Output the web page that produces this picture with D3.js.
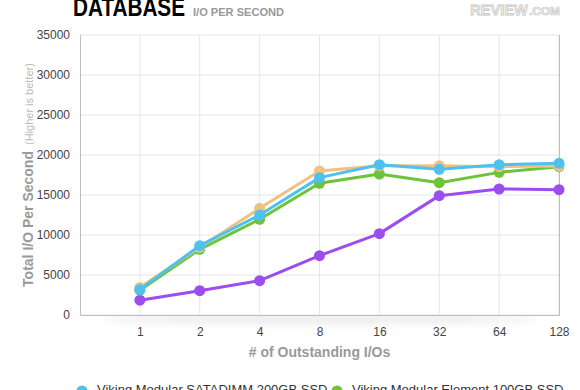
<!DOCTYPE html>
<html><head><meta charset="utf-8">
<script src="https://cdn.jsdelivr.net/npm/d3@7"></script>
<style>body{margin:0;background:#fff;}svg{display:block;font-family:"Liberation Sans",Arial,sans-serif;}</style>
</head><body>
<svg id="c" width="580" height="390"></svg>
<script>
const categories = ["1","2","4","8","16","32","64","128"];
const seriesNames = ["Viking Modular SATADIMM 200GB SSD","Viking Modular Element 100GB SSD","Series 3","Series 4"];
const blueValues   = [3200, 8670, 12500, 17170, 18790, 18210, 18790, 18960];
const greenValues  = [3100, 8210, 11960, 16460, 17620, 16540, 17830, 18540];
const orangeValues = [3450, 8460, 13330, 18000, 18670, 18670, 18540, 18630];
const purpleValues = [1850, 3040, 4290, 7420, 10170, 14920, 15750, 15670];
const yTicks = [0,5000,10000,15000,20000,25000,30000,35000];

const svg = d3.select("#c");
const L = 80, R = 559, T = 35, B = 315;
const x = d3.scalePoint().domain([""].concat(categories)).range([L, R]);
const y = d3.scaleLinear().domain([0, 35000]).range([B, T]);

// shadow under plot
const defs = svg.append("defs");
const f = defs.append("filter").attr("id","blur").attr("x","-20%").attr("y","-200%").attr("width","140%").attr("height","500%");
f.append("feGaussianBlur").attr("stdDeviation", 4);
svg.append("ellipse").attr("cx",(L+R)/2).attr("cy",B+4).attr("rx",220).attr("ry",5)
  .attr("fill","#000").attr("opacity",0.08).attr("filter","url(#blur)");
svg.append("rect").attr("x",L).attr("y",T).attr("width",R-L).attr("height",B-T).attr("fill","#fff");

// gridlines
svg.append("g").selectAll("line").data(yTicks).join("line")
  .attr("x1",L).attr("x2",R).attr("y1",d=>y(d)).attr("y2",d=>y(d))
  .attr("stroke","#e6e6e6").attr("stroke-width",1);
svg.append("g").selectAll("line").data(categories).join("line")
  .attr("x1",d=>x(d)).attr("x2",d=>x(d)).attr("y1",T).attr("y2",B)
  .attr("stroke","#e6e6e6").attr("stroke-width",1);

// frame
svg.append("path").attr("d",`M${L+0.5},${T}V${B+0.5}H${R+0.5}V${T}`)
  .attr("fill","none").attr("stroke","#bdbdbd").attr("stroke-width",1);

// y axis
const ya = svg.append("g").attr("transform",`translate(${L-10},0)`)
  .call(d3.axisLeft(y).tickValues(yTicks).tickSize(0).tickPadding(0).tickFormat(d3.format("d")));
ya.select(".domain").remove();
ya.selectAll("text").attr("font-size",12).attr("fill","#444").attr("font-family","Liberation Sans, Arial, sans-serif");

// x axis
const xa = svg.append("g").attr("transform",`translate(0,${B+12})`)
  .call(d3.axisBottom(x).tickValues(categories).tickSize(0).tickPadding(0));
xa.select(".domain").remove();
xa.selectAll("text").attr("font-size",12).attr("fill","#444").attr("font-family","Liberation Sans, Arial, sans-serif");

// axis titles
svg.append("text").attr("x",(L+R)/2).attr("y",357).attr("text-anchor","middle")
  .attr("font-size",14).attr("font-weight","bold").attr("fill","#999").text("# of Outstanding I/Os");
const yt = svg.append("text").attr("transform","translate(33,175) rotate(-90)").attr("text-anchor","middle");
yt.append("tspan").attr("font-size",14).attr("font-weight","bold").attr("fill","#999").text("Total I/O Per Second");
yt.append("tspan").attr("font-size",11).attr("fill","#bbb").attr("dx",6).text("(Higher is better)");

// series
const series = [
  {vals: purpleValues, color:"#9b4dee"},
  {vals: greenValues,  color:"#6dc33a"},
  {vals: orangeValues, color:"#efc283"},
  {vals: blueValues,   color:"#4fc1ee"}
];
const line = d3.line().x((d,i)=>x(categories[i])).y(d=>y(d));
series.forEach(s=>{
  const g = svg.append("g");
  g.append("path").attr("d",line(s.vals)).attr("fill","none").attr("stroke",s.color).attr("stroke-width",3).attr("stroke-linejoin","round");
  g.selectAll("circle").data(s.vals).join("circle")
    .attr("cx",(d,i)=>x(categories[i])).attr("cy",d=>y(d)).attr("r",5.5).attr("fill",s.color);
});

// title
svg.append("text").attr("x",73).attr("y",16).attr("font-size",26).attr("font-weight","bold").attr("fill","#000")
  .attr("textLength",112).attr("lengthAdjust","spacingAndGlyphs").text("DATABASE");
svg.append("text").attr("x",193).attr("y",16).attr("font-size",11).attr("font-weight","bold").attr("fill","#999")
  .attr("textLength",91).attr("lengthAdjust","spacingAndGlyphs").text("I/O PER SECOND");
// logo
svg.append("text").attr("x",470).attr("y",15).attr("font-size",15).attr("font-weight","bold")
  .attr("fill","#f2f2f2").attr("stroke","#c8c8c8").attr("stroke-width",0.8)
  .attr("textLength",58).attr("lengthAdjust","spacingAndGlyphs").text("REVIEW");
svg.append("text").attr("x",529).attr("y",15).attr("font-size",10).attr("font-weight","bold")
  .attr("fill","#f2f2f2").attr("stroke","#c8c8c8").attr("stroke-width",0.6)
  .attr("textLength",31).attr("lengthAdjust","spacingAndGlyphs").text(".COM");

// legend
const legend = [
  {name: seriesNames[0], color:"#4fc1ee", cx:82, tx:97},
  {name: seriesNames[1], color:"#6dc33a", cx:337, tx:352}
];
legend.forEach(l=>{
  svg.append("circle").attr("cx",l.cx).attr("cy",391).attr("r",5.5).attr("fill",l.color);
  svg.append("text").attr("x",l.tx).attr("y",394).attr("font-size",13).attr("fill","#333").text(l.name);
});
</script>
</body></html>
